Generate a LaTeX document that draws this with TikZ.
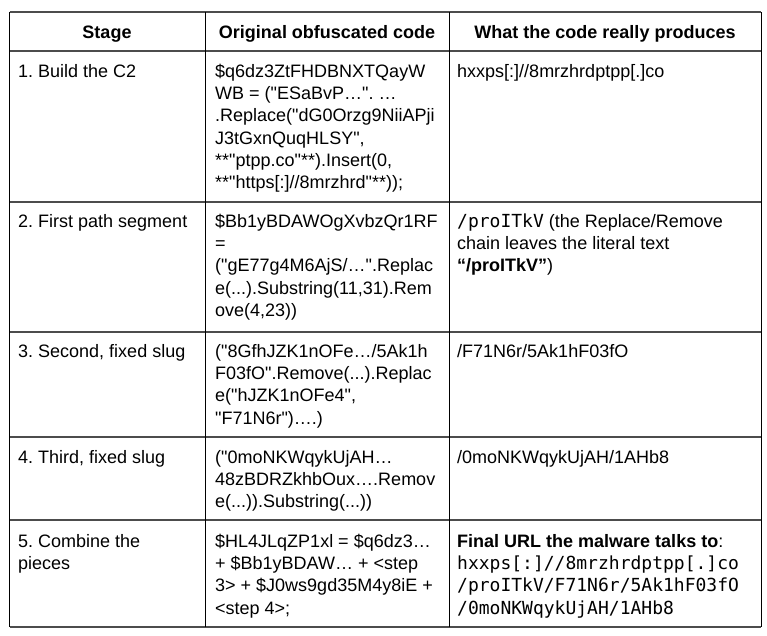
\documentclass[tikz,border=0pt]{standalone}
\usepackage{fontspec}
\setmainfont{Liberation Sans}[Ligatures=TeXOff]
\setmonofont{DejaVu Sans Mono}
\frenchspacing
\begin{document}
\begin{tikzpicture}[x=1pt,y=-1pt,
		every node/.style={inner sep=0pt,anchor=north west,align=left,
			font=\fontsize{18}{22.3}\selectfont},
		head/.style={anchor=base,font=\fontsize{18}{22.3}\selectfont\bfseries},
		hrule/.style={line width=1.3pt,black!70},
		vrule/.style={line width=1pt,black}]
	      \useasboundingbox (0,0) rectangle (767,635);
	      % Lineas de la tabla
	      \foreach \y in {12,51,202,332,437,520,627}
		\draw[hrule] (9.5,\y) -- (761,\y);
	      \foreach \x in {9.5,205,449,761}
		\draw[vrule] (\x,12) -- (\x,627);
	      % Cabecera
	      \node[head] (hstage) at (107,38) {Stage};
	      \node[head] (hcode) at (327,38) {Original obfuscated code};
	      \node[head] (hout) at (605,38) {What the code really produces};
	      % Paso 1
	      \node (stage1) at (18,61.4) {\strut 1. Build the C2};
	      \node (code1) at (215,61.4) {%
		  \strut\$q6dz3ZtFHDBNXTQayW\\
		  WB = ("ESaBvP…". …\\
		  .Replace("dG0Orzg9NiiAPji\\
		  J3tGxnQuqHLSY",\\
		  {}**"ptpp.co"**).Insert(0,\\
		  {}**"https[:]//8mrzhrd"**));};
	      \node (out1) at (457,61.4) {\strut hxxps[:]//8mrzhrdptpp[.]co};
	      % Paso 2
	      \node (stage2) at (18,211.4) {\strut 2. First path segment};
	      \node (code2) at (215,211.4) {%
		  \strut\$Bb1yBDAWOgXvbzQr1RF\\
		  =\\
		  ("gE77g4M6AjS/…".Replac\\
		  e(...).Substring(11,31).Rem\\
		  ove(4,23))};
	      \node (out2) at (457,211.4) {%
		  \strut\texttt{/proITkV} (the Replace/Remove\\
		  chain leaves the literal text\\
		  \textbf{“/proITkV”})};
	      % Paso 3
	      \node (stage3) at (18,341.4) {\strut 3. Second, fixed slug};
	      \node (code3) at (215,341.4) {%
		  \strut("8GfhJZK1nOFe…/5Ak1h\\
		  F03fO".Remove(...).Replac\\
		  e("hJZK1nOFe4",\\
		  "F71N6r")….)};
	      \node (out3) at (457,341.4) {\strut /F71N6r/5Ak1hF03fO};
	      % Paso 4
	      \node (stage4) at (18,447.4) {\strut 4. Third, fixed slug};
	      \node (code4) at (215,447.4) {%
		  \strut("0moNKWqykUjAH…\\
		  48zBDRZkhbOux….Remov\\
		  e(...)).Substring(...))};
	      \node (out4) at (457,447.4) {\strut /0moNKWqykUjAH/1AHb8};
	      % Paso 5
	      \node (stage5) at (18,531.4) {\strut 5. Combine the\\ pieces};
	      \node (code5) at (215,531.4) {%
		  \strut\$HL4JLqZP1xl = \$q6dz3…\\
		  + \$Bb1yBDAW… + <step\\
		  3> + \$J0ws9gd35M4y8iE +\\
		  <step 4>;};
	      \node (out5) at (457,531.4) {%
		  \strut\textbf{Final URL the malware talks to}:\\
		  \texttt{hxxps[:]//8mrzhrdptpp[.]co}\\
		  \texttt{/proITkV/F71N6r/5Ak1hF03fO}\\
		  \texttt{/0moNKWqykUjAH/1AHb8}};
\end{tikzpicture}
\end{document}
